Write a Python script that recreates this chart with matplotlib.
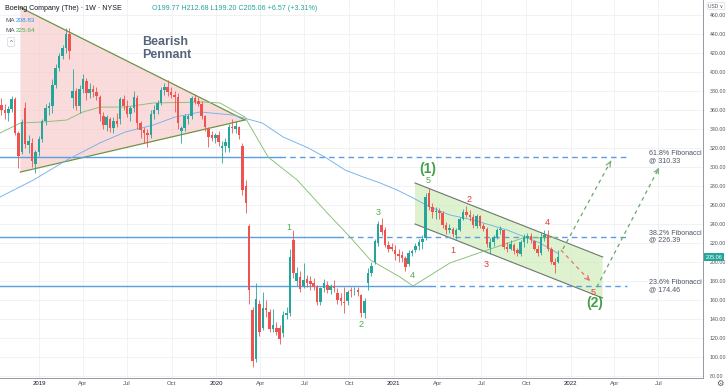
import matplotlib
matplotlib.use("Agg")
import matplotlib.dates as mdates
import matplotlib.pyplot as plt
import matplotlib.transforms as mtransforms
import numpy as np
import pandas as pd
from matplotlib.patches import Polygon

plt.rcParams["font.family"] = ["Liberation Sans", "DejaVu Sans"]

W, H = 728, 391

# weekly candles, one per Monday starting here
first_week = "2018-10-08"

opens = [
    383, 365, 360, 357, 361, 371, 336, 316, 362, 323, 325, 303, 316,
    329, 348, 362, 364, 386, 404, 417, 425, 440, 372, 380, 364, 382, 390, 378, 382, 379,
    374, 354, 344, 350, 341, 348, 350, 371, 364, 356, 362, 372, 346, 339, 336, 334, 356,
    360, 367, 381, 384, 379, 376, 374, 338, 341, 350, 353, 372, 369, 366, 353, 340, 334, 330,
    333, 320, 322, 320, 342, 340, 342, 322, 280, 238, 149, 98, 156, 130, 151, 147, 129,
    130, 130, 125, 144, 146, 223, 180, 184, 175, 182, 180, 178, 173, 158, 172, 176, 170, 175,
    167, 162, 158, 159, 170, 170, 170, 165, 146, 178, 188, 200, 220, 239, 233, 218, 216,
    212, 208, 207, 204, 198, 209, 212, 217, 221, 225, 272, 258, 252, 254, 251, 239, 233,
    235, 228, 234, 245, 252, 249, 247, 238, 248, 238, 235, 215, 221, 226, 233, 233, 216, 214,
    218, 212, 208, 221, 225, 227, 222, 214, 209, 226, 228, 213, 200, 199.77,
]
highs = [
    386, 372, 366, 364, 375, 373, 338, 350, 368, 333, 330, 318, 332,
    350, 366, 368, 392, 408, 420, 428, 446, 446, 403, 383, 386, 398, 393, 388, 386, 384,
    376, 358, 355, 352, 352, 357, 374, 376, 370, 364, 380, 376, 348, 342, 340, 360, 365,
    370, 384, 388, 391, 384, 380, 378, 343, 356, 356, 375, 377, 374, 369, 355, 342, 338, 336,
    338, 327, 330, 345, 350, 348, 343, 325, 286, 240, 152, 178, 160, 168, 160, 150, 150,
    137, 133, 148, 152, 214, 233, 195, 190, 199, 186, 185, 183, 176, 174, 182, 180, 177, 181,
    172, 167, 173, 170, 174, 174, 173, 166, 162, 193, 200, 224, 243, 246, 237, 222, 220,
    218, 213, 211, 206, 212, 214, 220, 224, 228, 272, 278, 262, 258, 257, 253, 242, 240,
    237, 236, 247, 256, 259, 255, 250, 250, 249, 241, 237, 225, 228, 236, 238, 234, 221, 223,
    220, 215, 223, 229, 230, 230, 223, 218, 230, 233, 233, 216, 204, 212.68,
]
lows = [
    357, 355, 350, 348, 358, 333, 299, 313, 320, 315, 300, 293, 311,
    326, 344, 355, 357, 383, 401, 414, 420, 414, 362, 360, 357, 378, 370, 372, 373, 370,
    348, 340, 338, 337, 336, 342, 345, 360, 352, 348, 358, 340, 330, 325, 321, 330, 350,
    356, 365, 376, 375, 372, 358, 340, 325, 338, 345, 350, 366, 364, 350, 338, 321, 327, 325,
    322, 304, 316, 316, 336, 336, 329, 270, 251, 156, 89, 95, 122, 128, 142, 126, 126,
    123, 114, 121, 140, 143, 183, 175, 168, 172, 174, 170, 170, 155, 155, 168, 167, 166, 168,
    156, 155, 146, 155, 163, 165, 164, 142, 141, 170, 185, 198, 217, 228, 216, 210, 211,
    202, 200, 200, 190, 196, 206, 210, 212, 214, 223, 255, 246, 245, 245, 236, 229, 230,
    226, 224, 232, 244, 247, 243, 236, 236, 236, 232, 216, 208, 217, 224, 229, 213, 210, 212,
    208, 206, 206, 216, 220, 220, 212, 206, 207, 222, 211, 198, 188, 199.20,
]
closes = [
    365, 360, 357, 361, 371, 336, 311, 347, 324, 327, 306, 316, 329,
    348, 362, 364, 386, 404, 417, 425, 440, 422, 380, 364, 382, 392, 378, 382, 379, 375,
    356, 344, 352, 341, 348, 345, 371, 364, 356, 362, 374, 346, 339, 336, 333, 356, 360,
    367, 381, 384, 379, 376, 374, 346, 341, 353, 353, 372, 368, 366, 353, 342, 331, 330, 333,
    326, 322, 326, 342, 341, 343, 333, 276, 262, 170, 96, 161, 126, 151, 149, 129, 133,
    126, 119, 144, 146, 205, 188, 188, 171, 181, 178, 177, 174, 158, 172, 178, 170, 175, 172,
    160, 159, 157, 168, 169, 170, 168, 146, 159, 188, 196, 222, 240, 231, 218, 214, 214,
    208, 206, 204, 195, 209, 211, 217, 221, 224, 268, 258, 252, 254, 251, 239, 233, 236,
    229, 234, 245, 252, 249, 247, 239, 248, 238, 235, 219, 221, 226, 233, 235, 216, 213, 219,
    211, 209, 221, 226, 227, 223, 214, 209, 226, 228, 213, 200, 197, 205.06,
]

# moving averages
ma_blue_dates = ["2018-10-12", "2018-12-20", "2019-02-27", "2019-05-06", "2019-06-27",
                 "2019-08-24", "2019-10-08", "2019-11-29", "2020-02-05", "2020-04-05",
                 "2020-05-18", "2020-07-09", "2020-08-12", "2020-09-23", "2020-10-30",
                 "2020-12-04", "2021-01-08", "2021-02-10", "2021-03-17", "2021-04-27",
                 "2021-06-14", "2021-08-23", "2021-10-30", "2021-12-06"]
ma_blue = [268.2, 286.1, 307.2, 325.1, 336.6, 344.0, 352.4, 357.7, 354.5, 346.1, 331.4,
           319.8, 310.3, 296.6, 289.3, 283.0, 275.6, 267.2, 257.7, 249.3, 244.0, 233.5,
           219.8, 208.83]
ma_green_dates = ["2018-10-12", "2018-11-23", "2019-01-09", "2019-02-27", "2019-04-01",
                  "2019-05-06", "2019-06-27", "2019-08-24", "2019-12-05", "2020-01-09",
                  "2020-02-29", "2020-04-17", "2020-06-16", "2020-08-17", "2020-10-03",
                  "2020-11-14", "2021-01-14", "2021-02-10", "2021-04-27", "2021-07-13",
                  "2021-09-25", "2021-12-06"]
ma_green = [335.6, 346.1, 347.2, 349.3, 357.7, 362.9, 362.9, 367.2, 368.2, 367.2, 352.4,
            310.3, 286.1, 251.4, 226.1, 201.9, 184.0, 174.5, 198.8, 212.4, 225.1, 225.64]

# fibonacci levels
fib_levels = [310.33, 226.39, 174.46]
fib_names = ["61.8% Fibonacci", "38.2% Fibonacci", "23.6% Fibonacci"]
fib_solid_end = ["2020-05-12", "2020-09-08", "2021-03-17"]
fib_dash_end = "2022-04-28"
fib_label_date = "2022-06-12"

# drawings
pennant_dates = ["2018-11-23", "2018-11-23", "2020-02-29"]
pennant_prices = [467.7, 294.5, 349.3]
channel_dates = ["2021-02-14", "2022-03-08"]
channel_upper = [283.0, 205.1]
channel_lower = [239.8, 161.9]

waves_green = [("1", "2020-05-30", 236.6), ("2", "2020-10-26", 134.5),
               ("3", "2020-11-30", 251.4), ("4", "2021-02-08", 186.1),
               ("5", "2021-03-13", 286.1)]
waves_green_big = [("(1)", "2021-03-13", 297.7), ("(2)", "2022-02-19", 156.6)]
waves_red = [("1", "2021-05-04", 212.4), ("2", "2021-06-06", 266.1),
             ("3", "2021-07-11", 197.7), ("4", "2021-11-13", 241.9),
             ("5", "2022-02-17", 167.2)]

red_path = [("2021-12-12", 212.4), ("2022-02-10", 179.8)]
green_paths = [[("2021-12-16", 213.5), ("2022-03-25", 306.1)],
               [("2022-02-24", 173.5), ("2022-07-02", 298.8)]]


def dn(s):
    return mdates.date2num(pd.Timestamp(s))


UP, DOWN = "#26a69a", "#ef5350"
TXT = "#50535e"

fig = plt.figure(figsize=(W / 100, H / 100), dpi=100)
ax = fig.add_axes([0, 13 / H, 703 / W, 378 / H])
ax.set_axisbelow(True)

# pennant
pen = Polygon(list(zip([dn(d) for d in pennant_dates], pennant_prices)), closed=True,
              facecolor="#f7c4c4", alpha=0.6, edgecolor="none", zorder=1)
ax.add_patch(pen)
ax.plot([dn(pennant_dates[0]), dn(pennant_dates[2])], [pennant_prices[0], pennant_prices[2]],
        color="#6f9440", lw=0.9, zorder=2)
ax.plot([dn(pennant_dates[1]), dn(pennant_dates[2])], [pennant_prices[1], pennant_prices[2]],
        color="#6f9440", lw=0.9, zorder=2)

# channel
cx = [dn(d) for d in channel_dates]
chan = Polygon([(cx[0], channel_upper[0]), (cx[1], channel_upper[1]),
                (cx[1], channel_lower[1]), (cx[0], channel_lower[0])],
               closed=True, facecolor="#c8eab2", alpha=0.6, edgecolor="none", zorder=1)
ax.add_patch(chan)
ax.plot(cx, channel_upper, color="#6b776b", lw=0.8, zorder=2)
ax.plot(cx, channel_lower, color="#6b776b", lw=0.8, zorder=2)

# fibonacci lines
x_left = dn("2018-10-12")
x_right = dn("2022-10-01")
for lvl, name, send in zip(fib_levels, fib_names, fib_solid_end):
    ax.plot([x_left, dn(send)], [lvl, lvl], color="#5b9de3", lw=1.0, zorder=2)
    ax.plot([dn(send), dn(fib_dash_end)], [lvl, lvl], color="#5b9de3", lw=1.0,
            ls=(0, (4, 3)), zorder=2)
    ax.text(dn(fib_label_date), lvl, f"{name}\n@ {lvl:.2f}", fontsize=5.1, color="#4c5566",
            ha="left", va="center", linespacing=1.0, zorder=5)

# moving averages
ax.plot([dn(d) for d in ma_blue_dates], ma_blue, color="#72b2ec", lw=0.65, zorder=3)
ax.plot([dn(d) for d in ma_green_dates], ma_green, color="#86bf74", lw=0.65, zorder=3)

# candles
dates = pd.date_range(first_week, periods=len(opens), freq="W-MON")
x = mdates.date2num(dates)
o, h, l, c = map(np.array, (opens, highs, lows, closes))
col = np.where(c >= o, UP, DOWN)
ax.vlines(x, l, h, colors=col, lw=0.6, zorder=4)
ax.bar(x, np.abs(c - o), bottom=np.minimum(o, c), width=5.2, color=col, lw=0, zorder=4)

# projected paths
(r0, rp0), (r1, rp1) = red_path
ax.plot([dn(r0), dn(r1)], [rp0, rp1], color="#e57373", lw=0.9, ls=(0, (3, 3)), zorder=5)
ax.annotate("", xy=(dn(r1), rp1), xytext=(dn(r0) + 0.95 * (dn(r1) - dn(r0)), rp0 + 0.95 * (rp1 - rp0)),
            arrowprops=dict(arrowstyle="->", color="#e57373", lw=0.8, mutation_scale=8), zorder=5)
for (g0, gp0), (g1, gp1) in green_paths:
    ax.plot([dn(g0), dn(g1)], [gp0, gp1], color="#6aa86a", lw=0.9, ls=(0, (3, 3)), zorder=5)
    ax.annotate("", xy=(dn(g1), gp1),
                xytext=(dn(g0) + 0.97 * (dn(g1) - dn(g0)), gp0 + 0.97 * (gp1 - gp0)),
                arrowprops=dict(arrowstyle="->", color="#6aa86a", lw=0.8, mutation_scale=8),
                zorder=5)

# wave labels
for t, d, p in waves_green:
    ax.text(dn(d), p, t, color="#4caf50", fontsize=6.5, ha="center", va="center", zorder=6)
for t, d, p in waves_green_big:
    ax.text(dn(d), p, t, color="#43a047", fontsize=10, fontweight="bold", ha="center",
            va="center", zorder=6)
for t, d, p in waves_red:
    ax.text(dn(d), p, t, color="#e53935", fontsize=6.5, ha="center", va="center", zorder=6)

ax.text(dn("2019-08-01"), 424.5, "Bearish\nPennant", color="#56657a", fontsize=9,
        fontweight="bold", ha="left", va="center", linespacing=1.05, zorder=6)

# axes
ax.set_xlim(x_left, x_right)
ax.set_ylim(77.7, 475.6)
ticks = pd.date_range("2019-01-01", "2022-07-01", freq="QS")
ax.set_xticks(mdates.date2num(ticks))
ax.set_xticklabels([str(t.year) if t.month == 1 else t.strftime("%b") for t in ticks])
for lab, t in zip(ax.get_xticklabels(), ticks):
    lab.set_color("#131722" if t.month == 1 else TXT)
ax.tick_params(axis="x", length=0, pad=2.5, labelsize=4.3)
ax.yaxis.tick_right()
yt = np.arange(80, 461, 20)
ax.set_yticks(yt)
ax.set_yticklabels([f"{v:.2f}" for v in yt])
ax.tick_params(axis="y", length=0, pad=5, labelsize=3.8, labelcolor=TXT)
ax.grid(True, color="#eef0f4", lw=0.6)
for s in ("left", "top"):
    ax.spines[s].set_visible(False)
for s in ("right", "bottom"):
    ax.spines[s].set_color("#9598a1")
    ax.spines[s].set_linewidth(0.7)

# last price tag
tr = mtransforms.blended_transform_factory(ax.transAxes, ax.transData)
ax.text(1.004, 205.06, "205.06", transform=tr, fontsize=3.9, color="white", ha="left",
        va="center", clip_on=False, zorder=7,
        bbox=dict(boxstyle="square,pad=0.3", fc="#26a69a", ec="none"))

# header
fig.text(5 / W, 1 - 8 / H, "Boeing Company (The) · 1W · NYSE", fontsize=5.1, color="#131722",
         va="center")
fig.text(152 / W, 1 - 8 / H, "O199.77 H212.68 L199.20 C205.06 +6.57 (+3.31%)", fontsize=5.1,
         color=UP, va="center")
fig.text(5 / W, 1 - 20 / H, "MA", fontsize=4.6, color=TXT, va="center")
fig.text(16 / W, 1 - 20 / H, "208.83", fontsize=4.6, color="#2196f3", va="center")
fig.text(5 / W, 1 - 31 / H, "MA", fontsize=4.6, color=TXT, va="center")
fig.text(16 / W, 1 - 31 / H, "225.64", fontsize=4.6, color="#4caf50", va="center")
fig.text(11 / W, 1 - 42 / H, "^", fontsize=4.5, color=TXT, ha="center", va="center",
         bbox=dict(boxstyle="round,pad=0.35", fc="white", ec="#d1d4dc", lw=0.5))
fig.text(716 / W, 1 - 6 / H, "USD ∨", fontsize=3.5, color=TXT, ha="center", va="center",
         bbox=dict(boxstyle="round,pad=0.25", fc="white", ec="#d1d4dc", lw=0.4))
fig.text(720 / W, 1 - 384 / H, "⚙", fontsize=6, color=TXT, ha="center", va="center")

fig.savefig("out.png", dpi=100)
